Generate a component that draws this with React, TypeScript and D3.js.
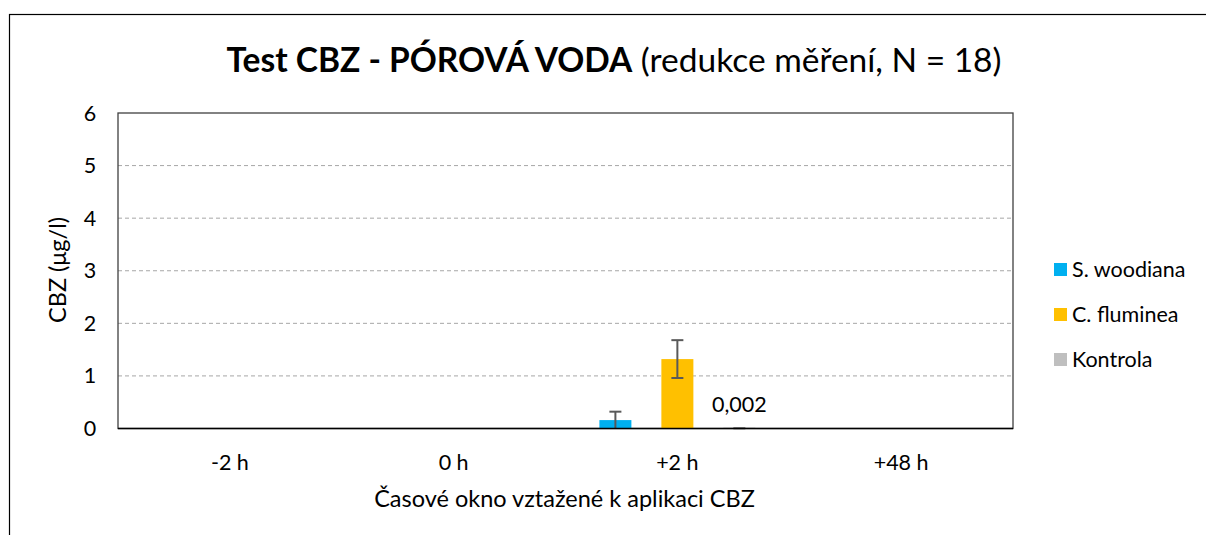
import React, { useEffect, useRef } from 'react';
import * as d3 from 'd3';

// categories and series
const categories = ['-2 h', '0 h', '+2 h', '+48 h'];
const seriesNames = ['S. woodiana', 'C. fluminea', 'Kontrola'];
const seriesColors = ['#00B0F0', '#FFC000', '#BFBFBF'];
// values per series, one per category (null = no bar)
const woodianaValues = [null, null, 0.16, null];
const flumineaValues = [null, null, 1.32, null];
const kontrolaValues = [null, null, 0.002, null];
const woodianaErrors = [null, null, 0.16, null];
const flumineaErrors = [null, null, 0.36, null];
const kontrolaErrors = [null, null, 0.002, null];
const yTicks = [0, 1, 2, 3, 4, 5, 6];

const W = 1206;
const H = 535;
const FONT = 'Lato, "Open Sans", sans-serif';

const App = () => {
    const ref = useRef<SVGSVGElement>(null);

    useEffect(() => {
        document.body.style.margin = '0';
        const svg = d3.select(ref.current);
        svg.selectAll('*').remove();

        const margin = { top: 113, right: 193, bottom: 106.5, left: 118 };
        const innerW = W - margin.left - margin.right;
        const innerH = H - margin.top - margin.bottom;

        // chart area border (runs off the right and bottom edges)
        svg.append('rect')
            .attr('x', 9.5).attr('y', 14.5)
            .attr('width', W + 20).attr('height', H + 20)
            .attr('fill', 'white').attr('stroke', '#000').attr('stroke-width', 1.2);

        // title
        const title = svg.append('text')
            .attr('x', 614).attr('y', 72)
            .attr('text-anchor', 'middle')
            .style('font-family', FONT)
            .style('font-size', '33.5px')
            .attr('fill', '#000');
        title.append('tspan').attr('font-weight', 'bold').text('Test CBZ - PÓROVÁ VODA');
        title.append('tspan').text(' (redukce měření, N = 18)');

        const g = svg.append('g').attr('transform', `translate(${margin.left},${margin.top})`);

        const x = d3.scaleBand().domain(categories).range([0, innerW]);
        const y = d3.scaleLinear().domain([0, 6]).range([innerH, 0]);

        // dashed gridlines
        g.append('g').selectAll('line')
            .data(yTicks.filter((t) => t > 0 && t < 6))
            .join('line')
            .attr('x1', 0).attr('x2', innerW)
            .attr('y1', (d) => y(d)).attr('y2', (d) => y(d))
            .attr('stroke', '#A6A6A6')
            .attr('stroke-dasharray', '4,3');

        // plot area frame
        g.append('rect')
            .attr('width', innerW).attr('height', innerH)
            .attr('fill', 'none').attr('stroke', '#404040').attr('stroke-width', 1.3);

        // bars
        const allValues = [woodianaValues, flumineaValues, kontrolaValues];
        const allErrors = [woodianaErrors, flumineaErrors, kontrolaErrors];
        const barW = x.bandwidth() * 0.143;
        const step = x.bandwidth() * 0.277;

        allValues.forEach((vals, si) => {
            vals.forEach((v, ci) => {
                if (v === null) return;
                const cx = x(categories[ci]) + x.bandwidth() / 2 + (si - 1) * step;
                const top = Math.min(y(v), innerH - 1);
                g.append('rect')
                    .attr('x', cx - barW / 2).attr('y', top)
                    .attr('width', barW).attr('height', innerH - top)
                    .attr('fill', seriesColors[si]);
                const e = allErrors[si][ci];
                if (e !== null) {
                    const eg = g.append('g').attr('stroke', '#595959').attr('stroke-width', 2);
                    eg.append('line').attr('x1', cx).attr('x2', cx)
                        .attr('y1', y(v + e)).attr('y2', y(Math.max(v - e, 0)));
                    eg.append('line').attr('x1', cx - 6).attr('x2', cx + 6)
                        .attr('y1', y(v + e)).attr('y2', y(v + e));
                    if (v - e > 0.01) {
                        eg.append('line').attr('x1', cx - 6).attr('x2', cx + 6)
                            .attr('y1', y(v - e)).attr('y2', y(v - e));
                    }
                }
                if (si === 2) {
                    g.append('text')
                        .attr('x', cx).attr('y', top - 16)
                        .attr('text-anchor', 'middle')
                        .style('font-family', FONT).style('font-size', '21.5px')
                        .attr('fill', '#000')
                        .text(String(v).replace('.', ','));
                }
            });
        });

        // baseline
        g.append('line')
            .attr('x1', 0).attr('x2', innerW).attr('y1', innerH).attr('y2', innerH)
            .attr('stroke', '#000').attr('stroke-width', 1.5);

        // y tick labels
        g.append('g').selectAll('text')
            .data(yTicks)
            .join('text')
            .attr('x', -28).attr('y', (d) => y(d))
            .attr('dy', '0.35em')
            .attr('text-anchor', 'middle')
            .style('font-family', FONT).style('font-size', '21.5px')
            .attr('fill', '#000')
            .text((d) => d);

        // x tick labels
        g.append('g').selectAll('text')
            .data(categories)
            .join('text')
            .attr('x', (d) => x(d) + x.bandwidth() / 2)
            .attr('y', innerH + 41)
            .attr('text-anchor', 'middle')
            .style('font-family', FONT).style('font-size', '21.5px')
            .attr('fill', '#000')
            .text((d) => d);

        // axis titles
        svg.append('text')
            .attr('x', margin.left + innerW / 2 - 1).attr('y', 507)
            .attr('text-anchor', 'middle')
            .style('font-family', FONT).style('font-size', '23.5px')
            .attr('fill', '#000')
            .text('Časové okno vztažené k aplikaci CBZ');
        svg.append('text')
            .attr('transform', 'translate(66,270) rotate(-90)')
            .attr('text-anchor', 'middle')
            .style('font-family', FONT).style('font-size', '23.5px')
            .attr('fill', '#000')
            .text('CBZ (μg/l)');

        // legend
        const legend = svg.append('g').attr('transform', 'translate(1054,269)');
        seriesNames.forEach((name, i) => {
            const row = legend.append('g').attr('transform', `translate(0,${i * 45})`);
            row.append('rect').attr('x', 0).attr('y', -6).attr('width', 13).attr('height', 13)
                .attr('fill', seriesColors[i]);
            row.append('text').attr('x', 18).attr('y', 0).attr('dy', '0.35em')
                .style('font-family', FONT).style('font-size', '21.5px')
                .attr('fill', '#000')
                .text(name);
        });
    }, []);

    return <svg ref={ref} width={W} height={H} style={{ display: 'block' }} />;
};

export default App;
